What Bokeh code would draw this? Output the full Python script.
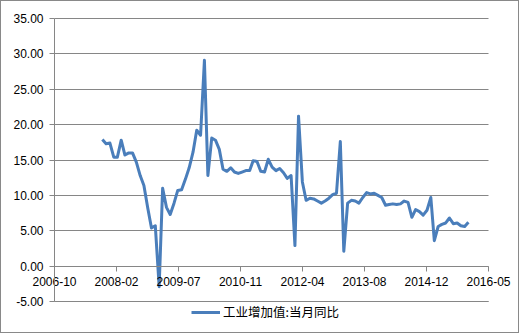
import pandas as pd
from datetime import datetime, timedelta
from bokeh.plotting import figure
from bokeh.models import (Range1d, FixedTicker, DatetimeTickFormatter,
                          NumeralTickFormatter, Legend, LegendItem, ColumnDataSource)
from bokeh.embed import file_html
from bokeh.resources import INLINE

# ---- data ----
series_name = "工业增加值:当月同比"
first_month = "2007-10"
values = [
    17.9, 17.3, 17.4,                                                        # 2007-10..12
    15.4, 15.4, 17.8, 15.7, 16.0, 16.0, 14.7, 12.8, 11.4, 8.2, 5.4, 5.7,     # 2008
    -2.9, 11.0, 8.3, 7.3, 8.9, 10.7, 10.8, 12.3, 13.9, 16.1, 19.2, 18.5,     # 2009
    29.1, 12.8, 18.1, 17.8, 16.5, 13.7, 13.4, 13.9, 13.3, 13.1, 13.3, 13.5,  # 2010
    13.5, 14.9, 14.8, 13.4, 13.3, 15.1, 14.0, 13.5, 13.8, 13.2, 12.4, 12.8,  # 2011
    2.9, 21.2, 11.9, 9.3, 9.6, 9.5, 9.2, 8.9, 9.2, 9.6, 10.1, 10.3,          # 2012
    17.6, 2.1, 8.9, 9.3, 9.2, 8.9, 9.7, 10.4, 10.2, 10.3, 10.0, 9.7,         # 2013
    8.6, 8.7, 8.8, 8.7, 8.8, 9.2, 9.0, 6.9, 8.0, 7.7, 7.2, 7.9,              # 2014
    9.7, 3.6, 5.6, 5.9, 6.1, 6.8, 6.0, 6.1, 5.7, 5.6, 6.2,                   # 2015-01..11
]
y_ticks = [-5, 0, 5, 10, 15, 20, 25, 30, 35]
axis_start = datetime(2006, 10, 10)
axis_step_days = 500
n_x_ticks = 8

dates = pd.date_range(start=first_month, periods=len(values), freq="ME")

def ms(d):
    return (d - datetime(1970, 1, 1)).total_seconds() * 1000.0

x_ticks = [ms(axis_start + timedelta(days=axis_step_days * k)) for k in range(n_x_ticks)]

# ---- layout (pixels) ----
W, H = 519, 333               # canvas inside a 1px CSS border -> 521 x 335
PL, PR, PT, PB = 53, 32, 17, 33   # plot-area margins inside the canvas

x0, x1 = x_ticks[0], x_ticks[-1]
dpx = (x1 - x0) / (W - PL - PR)
y0, y1 = y_ticks[0], y_ticks[-1]
dpy = (y1 - y0) / (H - PT - PB)

src = ColumnDataSource(dict(x=dates, y=values))

GRID = "#868686"
BLUE = "#4a7ebb"
FONT = "Liberation Sans"

p = figure(width=W, height=H, x_axis_type="datetime",
           output_backend="svg", toolbar_location=None,
           min_border_left=0, min_border_right=0,
           min_border_top=0, min_border_bottom=0)
p.styles = {"border": "1px solid #898989"}
p.x_range = Range1d(start=x0 - PL * dpx, end=x1 + PR * dpx)
p.y_range = Range1d(start=y0 - PB * dpy, end=y1 + PT * dpy)
p.outline_line_color = None
p.background_fill_color = "white"
p.border_fill_color = "white"

# bottom edge of the plot area (the -5 grid line)
p.segment(x0=[x0], y0=[y_ticks[0]], x1=[x1], y1=[y_ticks[0]],
          line_color=GRID, line_width=1, level="underlay")

r = p.line("x", "y", source=src, line_color=BLUE, line_width=3, line_join="round")

# x axis crossing at y=0
xa = p.xaxis[0]
xa.fixed_location = 0
xa.bounds = (x0, x1)
xa.ticker = FixedTicker(ticks=x_ticks)
fmt = "%Y-%m"
xa.formatter = DatetimeTickFormatter(milliseconds=fmt, seconds=fmt, minsec=fmt, minutes=fmt,
                                     hourmin=fmt, hours=fmt, days=fmt, months=fmt, years=fmt)
xa.axis_line_color = GRID
xa.major_tick_line_color = GRID
xa.major_tick_out = 5
xa.major_tick_in = 0
xa.minor_tick_out = 0
xa.minor_tick_in = 0
xa.major_label_standoff = 6
xa.major_label_text_font = FONT
xa.major_label_text_font_size = "12px"
xa.major_label_text_color = "#000000"

ya = p.yaxis[0]
ya.fixed_location = x0
ya.bounds = (y0, y1)
ya.ticker = FixedTicker(ticks=y_ticks)
ya.formatter = NumeralTickFormatter(format="0.00")
ya.axis_line_color = GRID
ya.major_tick_line_color = GRID
ya.major_tick_out = 5
ya.major_tick_in = 0
ya.minor_tick_out = 0
ya.minor_tick_in = 0
ya.major_label_standoff = 6
ya.major_label_text_font = FONT
ya.major_label_text_font_size = "12px"
ya.major_label_text_color = "#000000"

p.xgrid.visible = False
p.ygrid.ticker = FixedTicker(ticks=y_ticks)
p.ygrid.cross_bounds = (x0, x1)
p.ygrid.grid_line_color = GRID
p.ygrid.grid_line_width = 1

legend = Legend(items=[LegendItem(label=series_name, renderers=[r])],
                location=(190, 13), orientation="horizontal",
                glyph_width=29, glyph_height=14, label_height=14,
                label_standoff=3, padding=0, margin=0, spacing=0,
                border_line_color=None, background_fill_alpha=0,
                label_text_font="Noto Sans CJK SC", label_text_font_size="12.5px",
                label_text_color="#000000")
p.add_layout(legend)

open("out.html", "w").write(file_html(p, INLINE))
